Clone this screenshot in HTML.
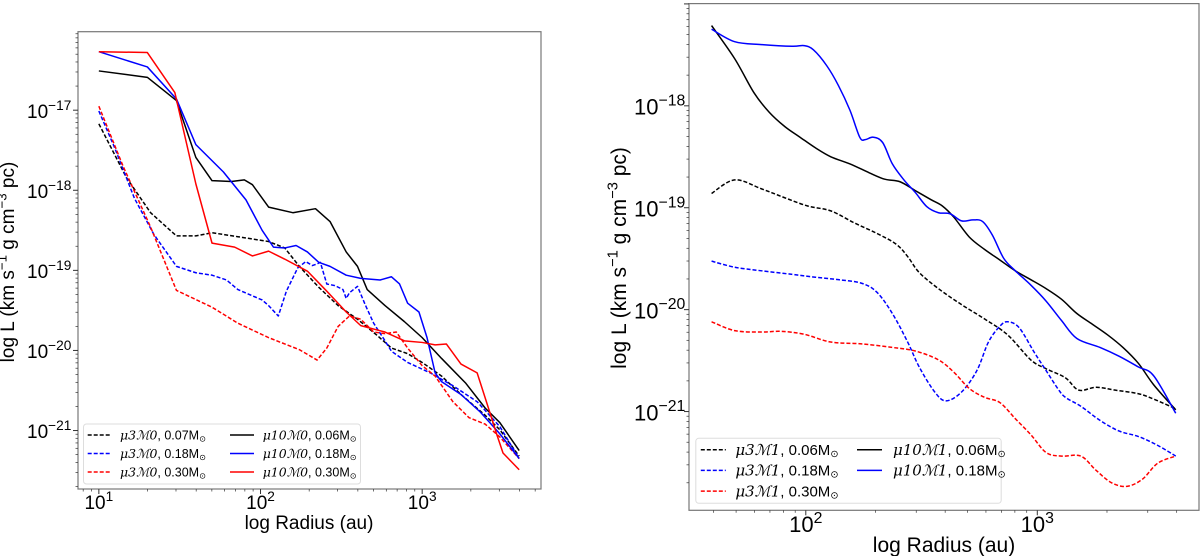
<!DOCTYPE html>
<html><head><meta charset="utf-8">
<style>
html,body{margin:0;padding:0;background:#fff;}
svg{display:block;font-family:"Liberation Sans","DejaVu Sans",sans-serif;}
</style></head>
<body>
<svg id="fig" width="1200" height="556" viewBox="0 0 1200 556"></svg>
<script>
// ---------- Left panel data (log10 radius [au], log10 L) ----------
const leftBlackSolidX=[1,1.30,1.48,1.60,1.70,1.82,1.90,1.95,2.05,2.20,2.34,2.43,2.53,2.60,2.66,2.77,2.89,3.00,3.12,3.27,3.39,3.48,3.60];
const leftBlackSolidY=[-16.51,-16.59,-16.88,-17.59,-17.88,-17.89,-17.87,-17.93,-18.21,-18.28,-18.23,-18.39,-18.77,-18.95,-19.24,-19.44,-19.64,-19.84,-20.10,-20.41,-20.72,-20.90,-21.25];
const leftBlueSolidX=[1.00,1.30,1.48,1.60,1.77,1.91,2.01,2.08,2.15,2.22,2.29,2.36,2.43,2.53,2.62,2.74,2.81,2.86,2.91,2.98,3.03,3.08,3.12,3.24,3.36,3.48,3.60];
const leftBlueSolidY=[-16.27,-16.46,-16.86,-17.43,-17.77,-18.12,-18.50,-18.71,-18.72,-18.69,-18.77,-18.90,-18.95,-19.06,-19.10,-19.12,-19.08,-19.17,-19.41,-19.52,-19.84,-20.28,-20.39,-20.55,-20.77,-21.04,-21.35];
const leftRedSolidX=[1.00,1.30,1.47,1.60,1.70,1.84,1.95,2.05,2.15,2.29,2.41,2.53,2.62,2.77,2.89,3.00,3.08,3.15,3.24,3.34,3.41,3.46,3.50,3.60];
const leftRedSolidY=[-16.27,-16.28,-16.78,-17.92,-18.66,-18.71,-18.82,-18.76,-18.86,-19.01,-19.26,-19.52,-19.69,-19.77,-19.88,-19.90,-19.93,-19.92,-20.17,-20.28,-20.72,-21.04,-21.28,-21.49];
const leftBlackDashX=[1.00,1.17,1.32,1.48,1.60,1.70,1.86,2.05,2.15,2.24,2.36,2.48,2.60,2.72,2.81,2.91,3.00,3.12,3.24,3.39,3.48,3.60];
const leftBlackDashY=[-17.17,-17.84,-18.28,-18.57,-18.57,-18.53,-18.58,-18.64,-18.72,-18.95,-19.21,-19.44,-19.61,-19.81,-19.97,-20.04,-20.15,-20.32,-20.55,-20.81,-20.99,-21.32];
const leftBlueDashX=[1.00,1.10,1.22,1.34,1.48,1.60,1.70,1.79,1.86,2.01,2.05,2.11,2.16,2.23,2.28,2.32,2.35,2.37,2.41,2.46,2.51,2.53,2.55,2.60,2.65,2.70,2.77,2.81,2.91,3.05,3.19,3.34,3.48,3.60];
const leftBlueDashY=[-17.01,-17.48,-18.10,-18.55,-18.95,-19.03,-19.06,-19.12,-19.24,-19.37,-19.44,-19.57,-19.26,-18.97,-18.89,-18.94,-18.92,-18.90,-19.17,-19.19,-19.24,-19.35,-19.28,-19.20,-19.44,-19.66,-19.88,-20.01,-20.15,-20.28,-20.44,-20.64,-20.95,-21.35];
const leftRedDashX=[1.00,1.15,1.32,1.48,1.70,1.86,2.05,2.24,2.35,2.41,2.48,2.55,2.62,2.70,2.77,2.84,2.91,3.00,3.08,3.19,3.29,3.39,3.48,3.60];
const leftRedDashY=[-16.95,-17.70,-18.46,-19.25,-19.46,-19.66,-19.84,-19.99,-20.12,-19.97,-19.70,-19.57,-19.61,-19.77,-19.79,-19.77,-19.97,-20.19,-20.32,-20.64,-20.84,-20.92,-21.08,-21.35];

// ---------- Right panel data ----------
const rightBlackSolidX=[1.593,1.693,1.776,1.842,1.909,1.975,2.042,2.108,2.191,2.274,2.341,2.407,2.473,2.540,2.590,2.640,2.706,2.772,2.839,2.905,2.972,3.038,3.105,3.171,3.238,3.304,3.370,3.437,3.503,3.598];
const rightBlackSolidY=[-17.213,-17.538,-17.871,-18.063,-18.203,-18.308,-18.413,-18.50,-18.57,-18.657,-18.72,-18.745,-18.832,-18.92,-18.983,-19.094,-19.287,-19.409,-19.514,-19.619,-19.706,-19.794,-19.899,-20.038,-20.143,-20.248,-20.371,-20.528,-20.738,-20.983];
const rightBlueSolidX=[1.593,1.693,1.809,1.942,1.992,2.033,2.091,2.141,2.191,2.233,2.257,2.291,2.332,2.374,2.424,2.473,2.523,2.573,2.623,2.673,2.723,2.764,2.806,2.855,2.905,2.972,3.038,3.105,3.171,3.271,3.354,3.437,3.503,3.598];
const rightBlueSolidY=[-17.248,-17.371,-17.399,-17.416,-17.409,-17.451,-17.608,-17.801,-18.045,-18.308,-18.332,-18.308,-18.36,-18.57,-18.727,-18.85,-18.99,-19.049,-19.059,-19.129,-19.119,-19.136,-19.269,-19.497,-19.619,-19.759,-19.916,-20.108,-20.283,-20.371,-20.458,-20.563,-20.65,-21.017];
const rightBlackDashX=[1.593,1.693,1.809,1.909,2.008,2.108,2.208,2.307,2.390,2.440,2.490,2.573,2.673,2.772,2.872,2.972,3.038,3.121,3.179,3.254,3.337,3.437,3.503,3.598];
const rightBlackDashY=[-18.86,-18.727,-18.815,-18.902,-18.983,-19.031,-19.147,-19.252,-19.357,-19.479,-19.636,-19.794,-19.951,-20.091,-20.248,-20.493,-20.58,-20.668,-20.79,-20.762,-20.79,-20.825,-20.878,-20.972];
const rightBlueDashX=[1.593,1.693,1.809,1.942,2.042,2.141,2.241,2.307,2.374,2.440,2.490,2.557,2.606,2.673,2.739,2.789,2.839,2.872,2.922,2.988,3.038,3.088,3.121,3.188,3.271,3.354,3.437,3.520,3.598];
const rightBlueDashY=[-19.524,-19.584,-19.619,-19.654,-19.682,-19.706,-19.741,-19.829,-20.038,-20.318,-20.563,-20.808,-20.895,-20.808,-20.598,-20.318,-20.161,-20.119,-20.178,-20.423,-20.598,-20.773,-20.86,-20.948,-21.087,-21.192,-21.245,-21.332,-21.437];
const rightRedDashX=[1.593,1.693,1.809,1.892,1.992,2.108,2.241,2.374,2.473,2.573,2.640,2.706,2.772,2.839,2.905,2.972,3.038,3.105,3.188,3.254,3.321,3.387,3.454,3.520,3.598];
const rightRedDashY=[-20.119,-20.206,-20.22,-20.213,-20.241,-20.318,-20.336,-20.371,-20.406,-20.493,-20.615,-20.773,-20.86,-20.913,-21.07,-21.227,-21.402,-21.437,-21.437,-21.577,-21.699,-21.734,-21.664,-21.507,-21.437];

const leftXTicks=[1,2,3];
const leftYTicks=[-17,-18,-19,-20,-21];
const rightXTicks=[2,3];
const rightYTicks=[-18,-19,-20,-21];

const NS="http://www.w3.org/2000/svg";
const svg=document.getElementById('fig');
function mk(tag,attrs,parent){const e=document.createElementNS(NS,tag);for(const k in attrs)e.setAttribute(k,attrs[k]);(parent||svg).appendChild(e);return e;}

function pathD(pts,smooth){
  if(!smooth){return pts.map((p,i)=>(i?'L':'M')+p[0].toFixed(2)+','+p[1].toFixed(2)).join('');}
  let d='M'+pts[0][0].toFixed(2)+','+pts[0][1].toFixed(2);
  for(let i=0;i<pts.length-1;i++){
    const p0=pts[i-1]||pts[i],p1=pts[i],p2=pts[i+1],p3=pts[i+2]||p2;
    const c1=[p1[0]+(p2[0]-p0[0])/6,p1[1]+(p2[1]-p0[1])/6];
    const c2=[p2[0]-(p3[0]-p1[0])/6,p2[1]-(p3[1]-p1[1])/6];
    d+='C'+c1[0].toFixed(2)+','+c1[1].toFixed(2)+' '+c2[0].toFixed(2)+','+c2[1].toFixed(2)+' '+p2[0].toFixed(2)+','+p2[1].toFixed(2);
  }
  return d;
}

function panel(cfg){
  const g=mk('g',{});
  
  
  const sx=v=>cfg.x0+(v-cfg.xmin)/(cfg.xmax-cfg.xmin)*(cfg.x1-cfg.x0);
  const sy=v=>cfg.y0+(cfg.ymax-v)/(cfg.ymax-cfg.ymin)*(cfg.y1-cfg.y0);
  cfg.series.forEach(s=>{
    const pts=s.x.map((xv,i)=>[sx(xv),sy(s.y[i])]);
    const p=mk('path',{d:pathD(pts,cfg.smooth),fill:'none',stroke:s.color,'stroke-width':1.5,'stroke-dasharray':s.dash?'4,2':'none','stroke-linejoin':'round'},g);
    
    
  });
  const fr=mk('rect',{x:cfg.x0,y:cfg.y0,width:cfg.x1-cfg.x0,height:cfg.y1-cfg.y0,fill:'none',stroke:'#777','stroke-width':1.2},g);
  
  
  for(let dec=Math.floor(cfg.xmin);dec<=Math.ceil(cfg.xmax);dec++){
    for(let m=1;m<10;m++){
      const v=dec+Math.log10(m);
      if(v<cfg.xmin||v>cfg.xmax)continue;
      const X=sx(v);
      mk('line',{x1:X,x2:X,y1:cfg.y1,y2:cfg.y1+(m===1?5:2.5),stroke:'#333','stroke-width':m===1?1:0.7},g);
    }
  }
  cfg.xt.forEach(t=>{
    const tx=mk('text',{x:sx(t),y:cfg.xty,'text-anchor':'middle','font-size':cfg.fs,fill:'#000'},g);
    
    
    tx.innerHTML='10<tspan dy="-'+(cfg.fs*0.42)+'" font-size="'+(cfg.fs*0.72)+'">'+t+'</tspan>';
  });
  for(let dec=Math.floor(cfg.ymin);dec<=Math.ceil(cfg.ymax);dec++){
    for(let m=1;m<10;m++){
      const v=dec+Math.log10(m);
      if(v<cfg.ymin||v>cfg.ymax)continue;
      const Y=sy(v);
      mk('line',{x1:cfg.x0,x2:cfg.x0-(m===1?5:2.5),y1:Y,y2:Y,stroke:'#333','stroke-width':m===1?1:0.7},g);
    }
  }
  cfg.yt.forEach(t=>{
    const tx=mk('text',{x:cfg.ytx,y:sy(t)+cfg.fs*0.4,'text-anchor':'start','font-size':cfg.fs,fill:'#000'},g);
    
    
    tx.innerHTML='10<tspan dy="-'+(cfg.fs*0.42)+'" font-size="'+(cfg.fs*0.72)+'">'+String(t).replace('-','\u2212')+'</tspan>';
  });
  const xl=mk('text',{x:cfg.xlx,y:cfg.xly,'text-anchor':'middle','font-size':cfg.lfs,fill:'#000'},g);
  
  
  xl.textContent='log Radius (au)';
  const yl=mk('text',{x:0,y:0,'text-anchor':'middle','font-size':cfg.lfs,fill:'#000',transform:'translate('+cfg.ylx+','+cfg.yly+') rotate(-90)'},g);
  
  
  const sfs=cfg.lfs*0.7, dy=cfg.lfs*0.4;
  yl.innerHTML='log L (km s<tspan dy="-'+dy+'" font-size="'+sfs+'">\u22121</tspan><tspan dy="'+dy+'"> g cm</tspan><tspan dy="-'+dy+'" font-size="'+sfs+'">\u22123</tspan><tspan dy="'+dy+'"> pc)</tspan>';
  const L=cfg.leg;
  const lg=mk('g',{},g);
  
  
  mk('rect',{x:L.x,y:L.y,width:L.w,height:L.h,rx:3,fill:'#fff',stroke:'#ddd','stroke-width':1},lg);
  L.items.forEach(it=>{
    const e=mk('g',{},lg);
    
    
    mk('line',{x1:it.lx,x2:it.lx+L.ll,y1:it.y,y2:it.y,stroke:it.color,'stroke-width':1.5,'stroke-dasharray':it.dash?'4,2':'none'},e);
    const t=mk('text',{x:it.tx,y:it.y+L.fs*0.35,'font-size':L.fs,fill:'#000'},e);
    t.innerHTML='<tspan font-style="italic" font-family="DejaVu Serif, Liberation Serif, serif">'+it.lab+'</tspan>, '+it.m+'M<tspan font-size="'+(L.fs*0.65)+'" dy="2">\u2299</tspan>';
  });
}

panel({name:'left-chart',smooth:false,x0:78,x1:541,y0:31.7,y1:489,xmin:0.871,xmax:3.735,ymin:-21.73,ymax:-16.02,
  xt:leftXTicks,yt:leftYTicks,fs:19,lfs:19,xty:509,ytx:27,xlx:309,xly:529,ylx:14,yly:262,
  series:[
    {id:'mu3M0-0.07',x:leftBlackDashX,y:leftBlackDashY,color:'#000',dash:true},
    {id:'mu3M0-0.18',x:leftBlueDashX,y:leftBlueDashY,color:'#00f',dash:true},
    {id:'mu3M0-0.30',x:leftRedDashX,y:leftRedDashY,color:'#f00',dash:true},
    {id:'mu10M0-0.06',x:leftBlackSolidX,y:leftBlackSolidY,color:'#000',dash:false},
    {id:'mu10M0-0.18',x:leftBlueSolidX,y:leftBlueSolidY,color:'#00f',dash:false},
    {id:'mu10M0-0.30',x:leftRedSolidX,y:leftRedSolidY,color:'#f00',dash:false}],
  leg:{x:83.5,y:424,w:277,h:60,ll:24,fs:12.5,items:[
    {lx:87.7,tx:120,y:435,color:'#000',dash:true,lab:'\u03bc3\u21330',m:'0.07'},
    {lx:87.7,tx:120,y:453.5,color:'#00f',dash:true,lab:'\u03bc3\u21330',m:'0.18'},
    {lx:87.7,tx:120,y:472,color:'#f00',dash:true,lab:'\u03bc3\u21330',m:'0.30'},
    {lx:230,tx:262.7,y:435,color:'#000',dash:false,lab:'\u03bc10\u21330',m:'0.06'},
    {lx:230,tx:262.7,y:453.5,color:'#00f',dash:false,lab:'\u03bc10\u21330',m:'0.18'},
    {lx:230,tx:262.7,y:472,color:'#f00',dash:false,lab:'\u03bc10\u21330',m:'0.30'}]}
});

panel({name:'right-chart',smooth:true,x0:689,x1:1199,y0:3.6,y1:510.3,xmin:1.4955,xmax:3.6985,ymin:-21.969,ymax:-16.997,
  xt:rightXTicks,yt:rightYTicks,fs:22,lfs:21,xty:532,ytx:634,xlx:944,xly:552,ylx:626,yly:258,
  series:[
    {id:'mu3M1-0.06',x:rightBlackDashX,y:rightBlackDashY,color:'#000',dash:true},
    {id:'mu3M1-0.18',x:rightBlueDashX,y:rightBlueDashY,color:'#00f',dash:true},
    {id:'mu3M1-0.30',x:rightRedDashX,y:rightRedDashY,color:'#f00',dash:true},
    {id:'mu10M1-0.06',x:rightBlackSolidX,y:rightBlackSolidY,color:'#000',dash:false},
    {id:'mu10M1-0.18',x:rightBlueSolidX,y:rightBlueSolidY,color:'#00f',dash:false}],
  leg:{x:695.8,y:438.3,w:305.4,h:65,ll:25,fs:15,items:[
    {lx:700.8,tx:735.4,y:449.8,color:'#000',dash:true,lab:'\u03bc3\u21331',m:'0.06'},
    {lx:700.8,tx:735.4,y:470.4,color:'#00f',dash:true,lab:'\u03bc3\u21331',m:'0.18'},
    {lx:700.8,tx:735.4,y:491.1,color:'#f00',dash:true,lab:'\u03bc3\u21331',m:'0.30'},
    {lx:857,tx:893,y:449.8,color:'#000',dash:false,lab:'\u03bc10\u21331',m:'0.06'},
    {lx:857,tx:893,y:470.4,color:'#00f',dash:false,lab:'\u03bc10\u21331',m:'0.18'}]}
});
</script>
</body></html>
